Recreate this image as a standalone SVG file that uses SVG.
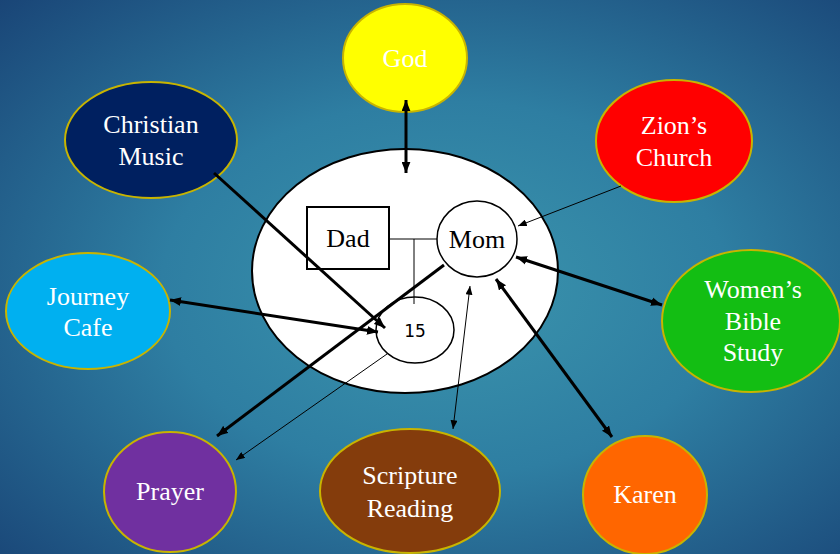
<svg xmlns="http://www.w3.org/2000/svg" width="840" height="554" viewBox="0 0 840 554">
<defs>
<radialGradient id="bg" cx="0.53" cy="0.52" r="0.75" gradientUnits="objectBoundingBox">
<stop offset="0" stop-color="#3b95ad"/>
<stop offset="0.45" stop-color="#2e7ea2"/>
<stop offset="1" stop-color="#194476"/>
</radialGradient>
<marker id="ah" viewBox="0 0 10 8" refX="10" refY="4" markerWidth="11" markerHeight="9" markerUnits="userSpaceOnUse" orient="auto-start-reverse">
<path d="M0,0 L10,4 L0,8 z" fill="#000"/>
</marker>
<marker id="at" viewBox="0 0 10 8" refX="10" refY="4" markerWidth="9" markerHeight="7" markerUnits="userSpaceOnUse" orient="auto-start-reverse">
<path d="M0,0 L10,4 L0,8 z" fill="#000"/>
</marker>
</defs>
<style>
.node{stroke:#c8b400;stroke-width:2}
.lbl{font-family:"Liberation Serif","Times New Roman",serif;font-size:26px;fill:#fff;text-anchor:middle}
.in{font-family:"Liberation Serif","Times New Roman",serif;font-size:26px;fill:#000;text-anchor:middle}
.thick{stroke:#000;stroke-width:3;fill:none}
.thin{stroke:#000;stroke-width:1;fill:none}
</style>
<rect x="0" y="0" width="840" height="554" fill="url(#bg)"/>

<g id="family">
<ellipse cx="405" cy="271" rx="153" ry="122" fill="#fff" stroke="#000" stroke-width="2"/>
</g>

<g id="god"><ellipse class="node" cx="405" cy="58" rx="62" ry="54" fill="#ffff00"/><text class="lbl" x="405" y="67">God</text></g>
<g id="christian-music"><ellipse class="node" cx="151" cy="140" rx="86" ry="58" fill="#002060"/><text class="lbl" x="151" y="133">Christian</text><text class="lbl" x="151" y="165">Music</text></g>
<g id="zions-church"><ellipse class="node" cx="674" cy="141" rx="78" ry="61" fill="#ff0000"/><text class="lbl" x="674" y="134">Zion’s</text><text class="lbl" x="674" y="166">Church</text></g>
<g id="journey-cafe"><ellipse class="node" cx="88" cy="311" rx="82" ry="58" fill="#00b0f0"/><text class="lbl" x="88" y="305">Journey</text><text class="lbl" x="88" y="336">Cafe</text></g>
<g id="womens-bible-study"><ellipse class="node" cx="751" cy="321" rx="89" ry="71" fill="#13be13"/><text class="lbl" x="753" y="298">Women’s</text><text class="lbl" x="753" y="330">Bible</text><text class="lbl" x="753" y="361">Study</text></g>
<g id="prayer"><ellipse class="node" cx="170" cy="492" rx="66" ry="60" fill="#7030a0"/><text class="lbl" x="170" y="500">Prayer</text></g>
<g id="scripture-reading"><ellipse class="node" cx="410" cy="491" rx="90" ry="62" fill="#843c0c"/><text class="lbl" x="410" y="484">Scripture</text><text class="lbl" x="410" y="517">Reading</text></g>
<g id="karen"><ellipse class="node" cx="645" cy="495" rx="62" ry="59" fill="#ff6600"/><text class="lbl" x="645" y="503">Karen</text></g>

<g id="dad"><rect x="307" y="207" width="82" height="62" fill="#fff" stroke="#000" stroke-width="2"/><text class="in" x="348" y="247">Dad</text></g>
<g id="mom"><ellipse cx="477" cy="239" rx="40" ry="38" fill="#fff" stroke="#000" stroke-width="1.5"/><text class="in" x="477" y="248">Mom</text></g>
<g id="child-15"><ellipse cx="415" cy="330" rx="39" ry="33" fill="#fff" stroke="#000" stroke-width="1.5"/><text x="415" y="337" font-family="DejaVu Sans, sans-serif" font-size="17" text-anchor="middle" fill="#000">15</text></g>

<g id="connectors">
<path class="thin" d="M389,239 H437 M414,239 V304"/>
<line class="thick" x1="406" y1="100" x2="406" y2="173" marker-start="url(#ah)" marker-end="url(#ah)"/>
<line class="thick" x1="214" y1="173" x2="385" y2="328" marker-end="url(#ah)"/>
<line class="thin" x1="621" y1="186" x2="518" y2="226" marker-end="url(#at)"/>
<line class="thick" x1="170" y1="300" x2="378" y2="332" marker-start="url(#ah)" marker-end="url(#ah)"/>
<line class="thick" x1="662" y1="305" x2="516" y2="257" marker-start="url(#ah)" marker-end="url(#ah)"/>
<line class="thick" x1="444" y1="265" x2="217" y2="436" marker-end="url(#ah)"/>
<line class="thin" x1="387" y1="354" x2="236" y2="460" marker-end="url(#at)"/>
<line class="thin" x1="470" y1="286" x2="453" y2="429" marker-start="url(#at)" marker-end="url(#at)"/>
<line class="thick" x1="496" y1="279" x2="612" y2="437" marker-start="url(#ah)" marker-end="url(#ah)"/>
</g>
</svg>
